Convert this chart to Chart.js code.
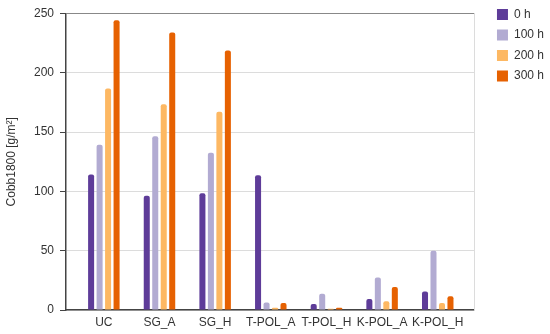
<!DOCTYPE html>
<html lang="en">
<head>
    <meta charset="UTF-8">
    <title>Cobb1800</title>
    <script src="https://cdn.jsdelivr.net/npm/chart.js"></script>
    <style>
        body { margin: 0; background: #fff; }
        #wrap { width: 550px; height: 334px; }
    </style>
</head>
<body>
    <div id="wrap"><canvas id="chart" width="550" height="334"></canvas></div>
    <script>
        // data
        const categories = ['UC', 'SG_A', 'SG_H', 'T-POL_A', 'T-POL_H', 'K-POL_A', 'K-POL_H'];
        const seriesNames = ['0 h', '100 h', '200 h', '300 h'];
        const h0   = [114.3, 96.3, 98.5, 113.7, 5.0, 9.3, 15.5];
        const h100 = [139.4, 146.4, 132.6, 6.4, 13.8, 27.5, 50.0];
        const h200 = [186.7, 173.4, 167.2, 2.0, 1.0, 7.3, 5.9];
        const h300 = [244.4, 234.0, 218.8, 5.9, 2.0, 19.4, 11.5];
        const colors = ['#5e3c99', '#b2abd2', '#fdb863', '#e66101'];
        const yTicks = [0, 50, 100, 150, 200, 250];

        const seriesValues = [h0, h100, h200, h300];
        const font = { family: "'Liberation Sans', Arial, sans-serif", size: 12 };

        const ctx = document.getElementById('chart').getContext('2d');
        const chart = new Chart(ctx, {
            type: 'bar',
            data: {
                labels: categories,
                datasets: seriesNames.map((name, i) => ({
                    label: name,
                    data: seriesValues[i],
                    backgroundColor: colors[i],
                    borderRadius: { topLeft: 2, topRight: 2 },
                    borderSkipped: 'bottom',
                    categoryPercentage: 0.61,
                    barPercentage: 0.71
                }))
            },
            options: {
                responsive: false,
                animation: false,
                layout: { padding: { top: 0, left: 0, right: -4, bottom: 0 } },
                plugins: {
                    // empty, non-full-width title just to push the plot down
                    title: {
                        display: true,
                        text: '',
                        fullSize: false,
                        padding: 0,
                        font: { size: 13.5, lineHeight: 1 }
                    },
                    legend: {
                        position: 'right',
                        align: 'start',
                        labels: {
                            font: font,
                            color: '#333',
                            boxWidth: 11,
                            boxHeight: 11,
                            padding: 8.5
                        }
                    },
                    tooltip: { enabled: false }
                },
                scales: {
                    x: {
                        afterFit: a => { a.height = 24; },
                        // the categories sit a little inside the plot on both ends
                        afterBuildTicks: a => { a._startValue = -0.68; a._valueRange = 7.34; },
                        grid: { display: false, drawTicks: false },
                        border: { color: '#444', width: 1.5 },
                        ticks: { font: font, color: '#333', padding: 5 }
                    },
                    y: {
                        min: 0,
                        max: 250,
                        afterFit: a => { a.width = 66; },
                        afterBuildTicks: axis => { axis.ticks = yTicks.map(v => ({ value: v })); },
                        grid: {
                            color: c => c.tick && c.tick.value === 250 ? '#888' : '#dcdcdc',
                            tickColor: '#444',
                            tickLength: 6
                        },
                        border: { color: '#444', width: 1.5 },
                        ticks: { font: font, color: '#333', padding: 6 },
                        title: {
                            display: true,
                            text: 'Cobb1800 [g/m²]',
                            font: font,
                            color: '#333',
                            padding: 4
                        }
                    },
                    // blank right axis: gap before the legend and the light right frame line
                    yR: {
                        position: 'right',
                        min: 0,
                        max: 250,
                        afterFit: a => { a.width = 14; },
                        grid: { display: false },
                        ticks: { display: false },
                        border: { color: '#dcdcdc', width: 1 }
                    }
                }
            }
        });
    </script>
</body>
</html>
